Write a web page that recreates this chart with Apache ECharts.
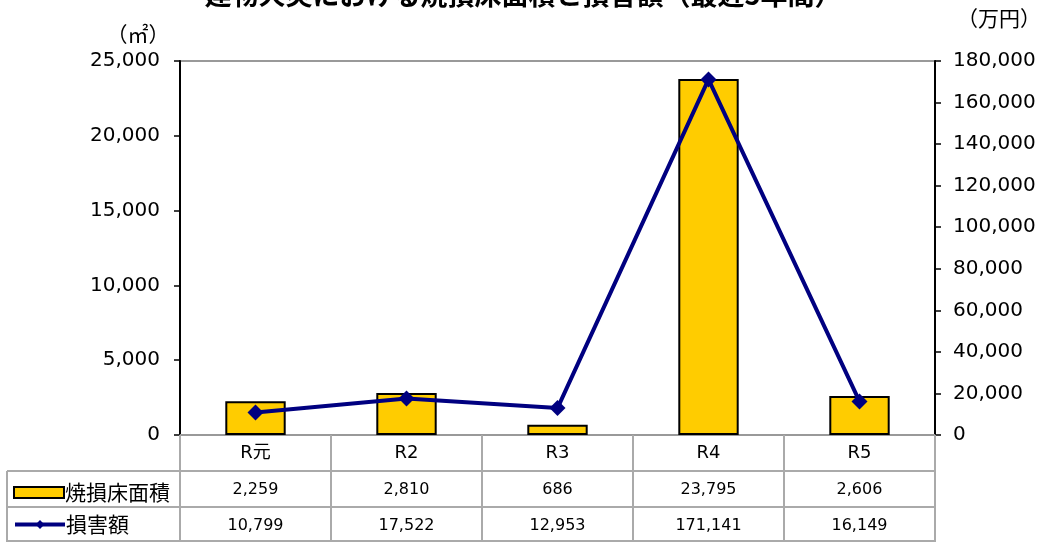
<!DOCTYPE html>
<html><head><meta charset="utf-8">
<script src="https://cdn.jsdelivr.net/npm/echarts@6/dist/echarts.min.js"></script>
<style>html,body{margin:0;padding:0;background:#fff}#c{width:1046px;height:542px}</style>
</head><body><div id="c"></div>
<script>
const categories = ['R元', 'R2', 'R3', 'R4', 'R5'];
const areaValues = [2259, 2810, 686, 23795, 2606];
const lossValues = [10799, 17522, 12953, 171141, 16149];
const areaName = '焼損床面積';
const lossName = '損害額';
const leftTicks = [0, 5000, 10000, 15000, 20000, 25000];
const rightTicks = [0, 20000, 40000, 60000, 80000, 100000, 120000, 140000, 160000, 180000];

const CJK = '"Noto Sans CJK JP", sans-serif';
const NUM = '"DejaVu Sans", "Noto Sans CJK JP", sans-serif';
const fmt = v => v.toLocaleString('en-US');
const chart = echarts.init(document.getElementById('c'));

const L = 180, R = 935, T = 61, B = 435;
const tableLeft = 7, rowH = 36;

const legendText = { fontSize: 21, color: '#000', fontFamily: CJK, padding: [0, 0, 0, -4] };

chart.setOption({
  animation: false,
  textStyle: { fontFamily: CJK },
  title: {
    text: '建物火災における焼損床面積と損害額（最近5年間）',
    left: 'center', top: -24,
    textStyle: { fontSize: 27, fontWeight: 'bold', color: '#000', fontFamily: CJK }
  },
  grid: { left: L, right: 1046 - R, top: T, bottom: 542 - B, show: true, borderColor: '#999', borderWidth: 2, backgroundColor: '#fff' },
  legend: [
    { left: 8, top: 477, itemWidth: 50, itemHeight: 11, icon: 'rect', textStyle: legendText, data: [areaName] },
    { left: 8, top: 509, itemWidth: 50, itemHeight: 11, textStyle: legendText, lineStyle: { width: 4 }, data: [lossName] }
  ],
  xAxis: [
    { type: 'category', data: categories, position: 'bottom',
      axisLine: { lineStyle: { color: '#999', width: 2 } },
      axisTick: { show: true, length: 107, interval: 0, lineStyle: { color: '#aaa', width: 2 } },
      axisLabel: { fontSize: 18, color: '#000', margin: 9, fontFamily: NUM } },
    { type: 'category', data: areaValues.map(fmt), position: 'bottom', offset: rowH,
      axisLine: { show: false }, axisTick: { show: false },
      axisLabel: { fontSize: 16, color: '#000', margin: 11, fontFamily: NUM } },
    { type: 'category', data: lossValues.map(fmt), position: 'bottom', offset: rowH * 2,
      axisLine: { show: false }, axisTick: { show: false },
      axisLabel: { fontSize: 16, color: '#000', margin: 11, fontFamily: NUM } }
  ],
  yAxis: [
    { type: 'value', min: leftTicks[0], max: leftTicks[leftTicks.length - 1], interval: leftTicks[1] - leftTicks[0],
      name: '（㎡）', nameLocation: 'end', nameGap: 16,
      nameTextStyle: { fontSize: 21, color: '#000', align: 'center', padding: [0, 84, 0, 0], fontFamily: CJK },
      axisLine: { show: true, lineStyle: { color: '#000', width: 2 } },
      axisTick: { show: true, length: 6, lineStyle: { color: '#000', width: 1.5 } },
      splitLine: { show: false },
      axisLabel: { fontSize: 20, color: '#000', margin: 20, formatter: v => fmt(v), fontFamily: NUM } },
    { type: 'value', min: rightTicks[0], max: rightTicks[rightTicks.length - 1], interval: rightTicks[1] - rightTicks[0],
      position: 'right',
      name: '（万円）', nameLocation: 'end', nameGap: 32,
      nameTextStyle: { fontSize: 21, color: '#000', align: 'center', padding: [0, 0, 0, 128], fontFamily: CJK },
      axisLine: { show: true, lineStyle: { color: '#000', width: 2 } },
      axisTick: { show: true, length: 6, lineStyle: { color: '#000', width: 1.5 } },
      splitLine: { show: false },
      axisLabel: { fontSize: 20, color: '#000', margin: 18, formatter: v => fmt(v), fontFamily: NUM } }
  ],
  series: [
    { name: areaName, type: 'bar', data: areaValues, barWidth: '40%', xAxisIndex: 0, yAxisIndex: 0,
      itemStyle: { color: '#FFCC00', borderColor: '#000', borderWidth: 2 } },
    { name: lossName, type: 'line', data: lossValues, xAxisIndex: 0, yAxisIndex: 1,
      symbol: 'diamond', symbolSize: 16,
      lineStyle: { color: '#000080', width: 4 }, itemStyle: { color: '#000080' } }
  ],
  graphic: [
    { type: 'line', shape: { x1: tableLeft, y1: B + rowH, x2: R, y2: B + rowH }, style: { stroke: '#aaa', lineWidth: 2 } },
    { type: 'line', shape: { x1: tableLeft, y1: B + rowH * 2, x2: R, y2: B + rowH * 2 }, style: { stroke: '#aaa', lineWidth: 2 } },
    { type: 'line', shape: { x1: tableLeft, y1: 541, x2: R, y2: 541 }, style: { stroke: '#aaa', lineWidth: 2 } },
    { type: 'line', shape: { x1: tableLeft, y1: B + rowH, x2: tableLeft, y2: 542 }, style: { stroke: '#aaa', lineWidth: 2 } }
  ]
});
</script></body></html>
